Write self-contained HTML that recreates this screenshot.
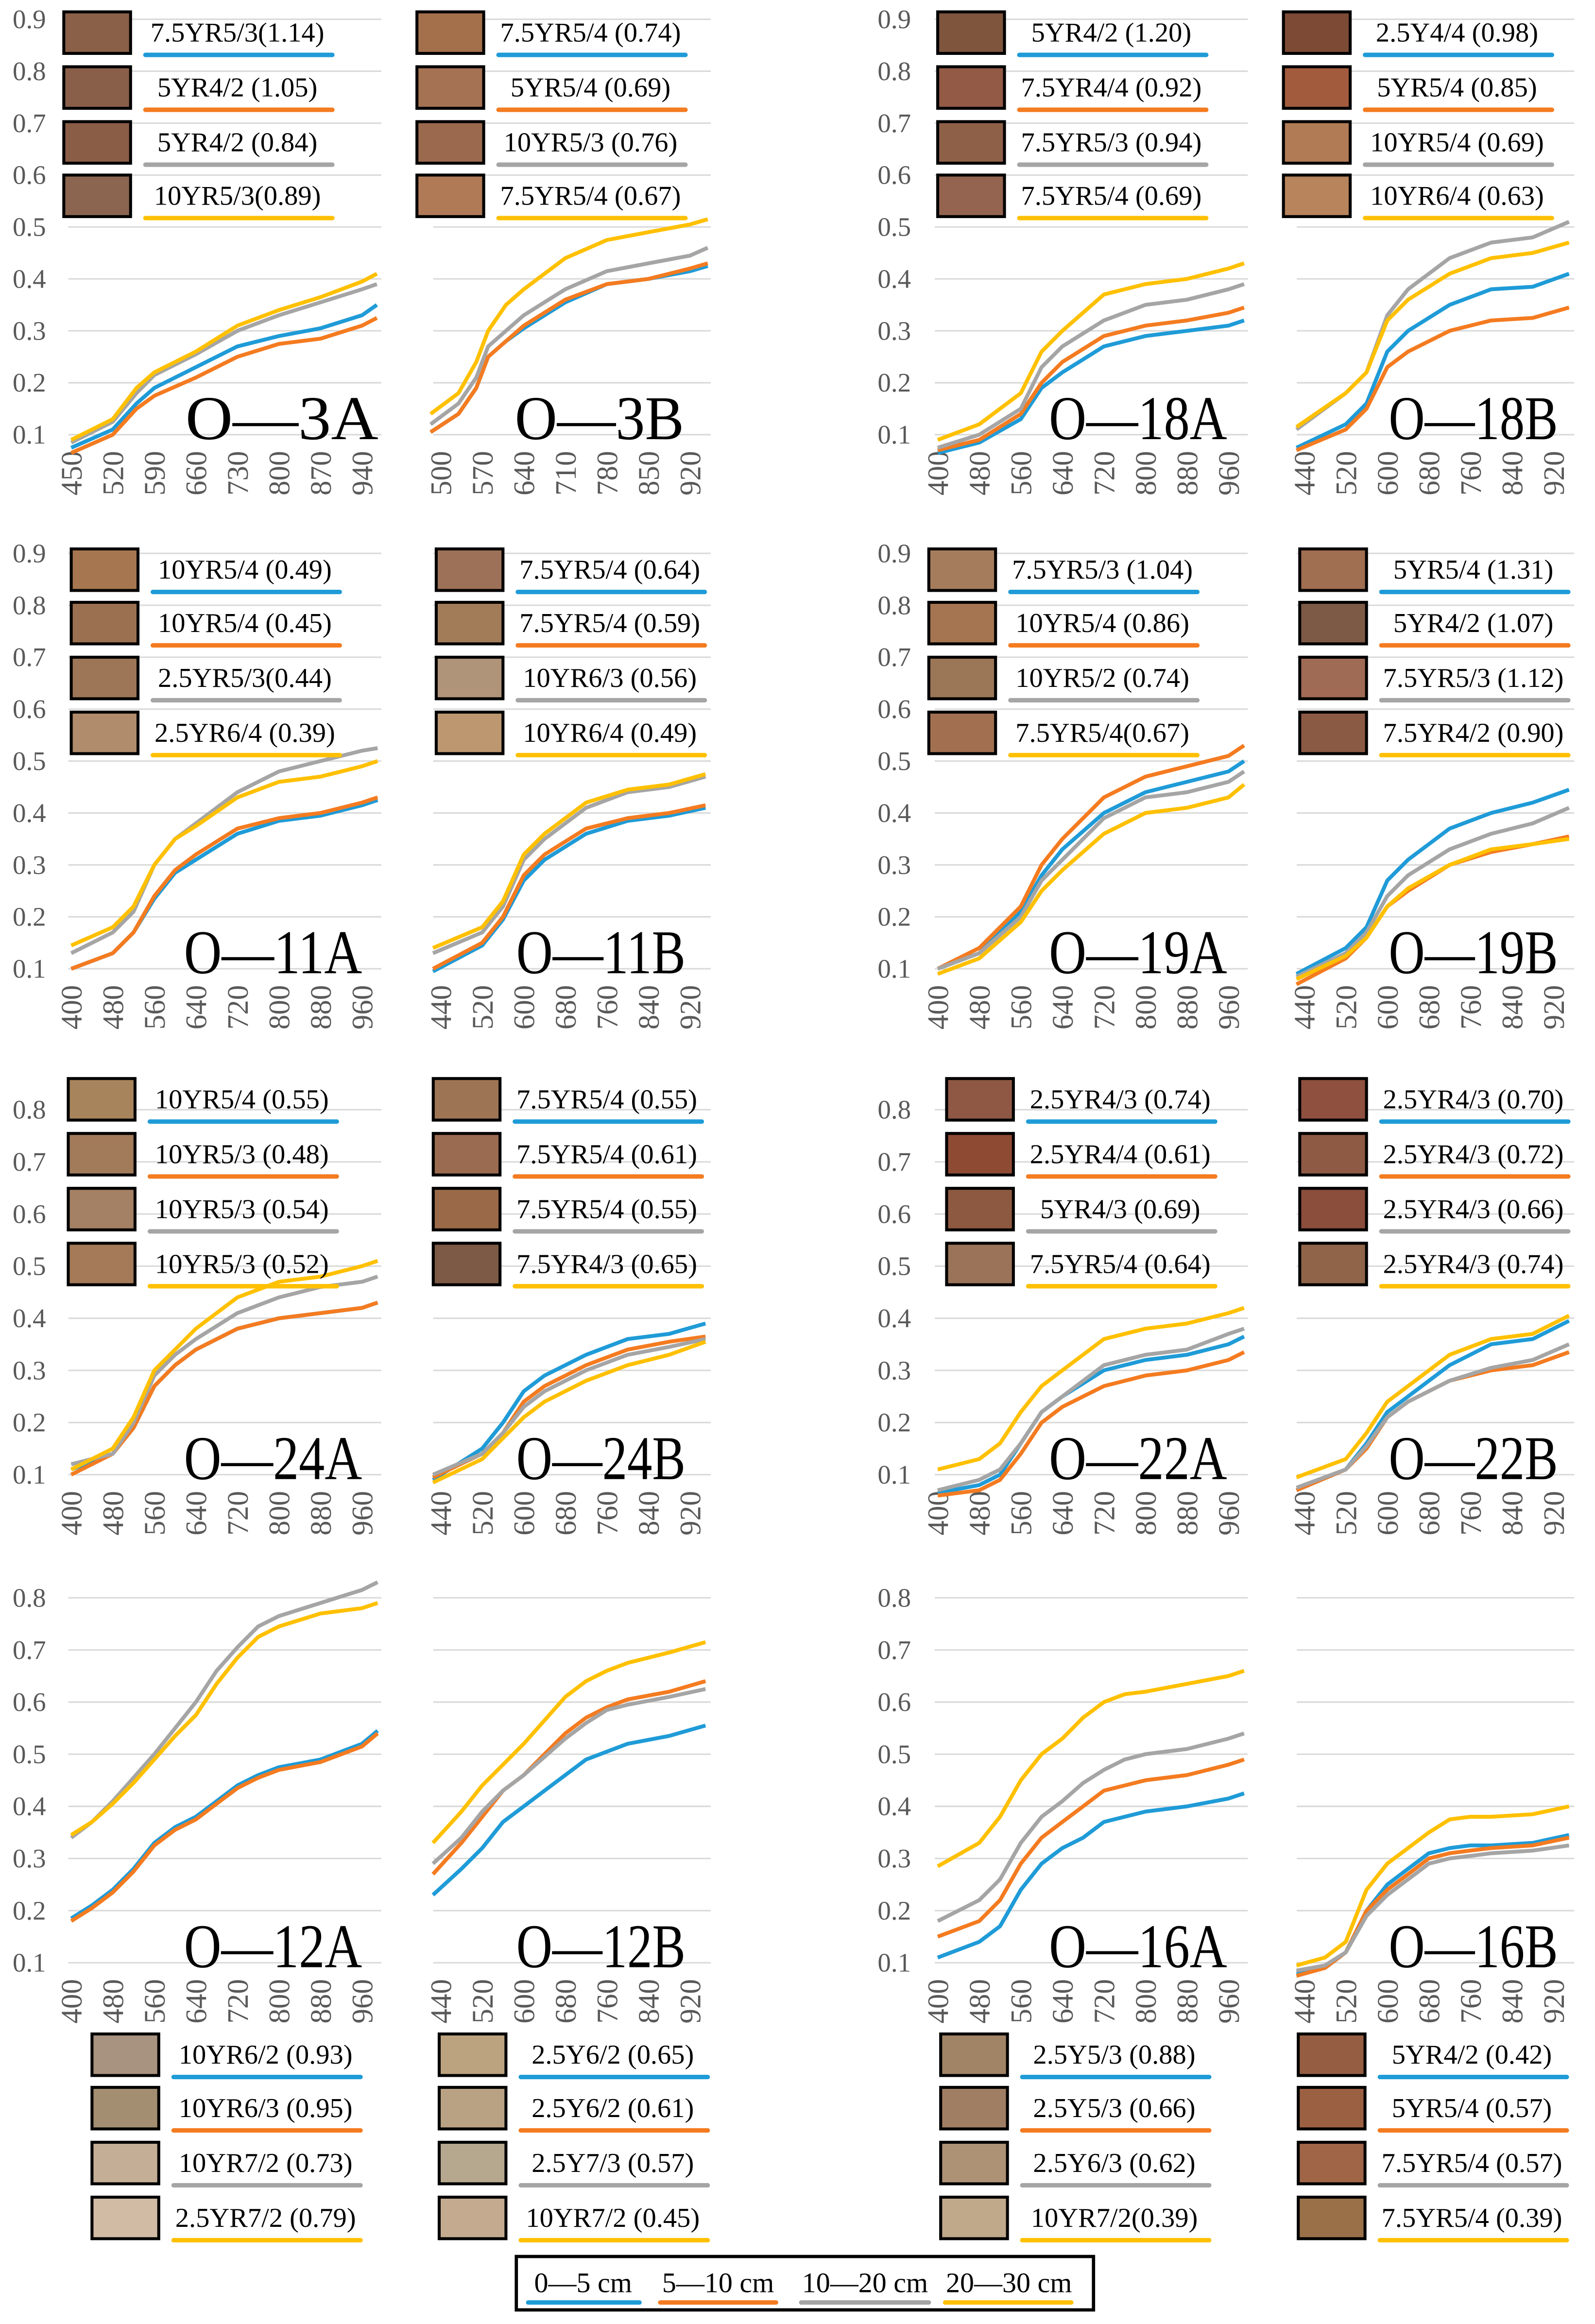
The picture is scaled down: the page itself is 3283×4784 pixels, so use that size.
<!DOCTYPE html>
<html><head><meta charset="utf-8"><title>Soil reflectance spectra</title>
<style>
html,body{margin:0;padding:0;background:#fff;}
svg{display:block;font-family:"Liberation Serif",serif;}
</style></head>
<body>
<svg id="fig" width="3283" height="4784" viewBox="0 0 1075 1566.5" preserveAspectRatio="none" xmlns="http://www.w3.org/2000/svg">
<g id="layer"></g>
<g>
<rect x="348" y="1521" width="389" height="36" fill="#fff" stroke="#000" stroke-width="2.2"/>
<text x="393" y="1545" font-size="19" text-anchor="middle">0—5 cm</text>
<line x1="356" x2="431" y1="1552" y2="1552" stroke="#1f9bd7" stroke-width="3" stroke-linecap="round"/>
<text x="484" y="1545" font-size="19" text-anchor="middle">5—10 cm</text>
<line x1="445" x2="523" y1="1552" y2="1552" stroke="#f47b20" stroke-width="3" stroke-linecap="round"/>
<text x="583" y="1545" font-size="19" text-anchor="middle">10—20 cm</text>
<line x1="540" x2="626" y1="1552" y2="1552" stroke="#a5a5a5" stroke-width="3" stroke-linecap="round"/>
<text x="680" y="1545" font-size="19" text-anchor="middle">20—30 cm</text>
<line x1="637" x2="722" y1="1552" y2="1552" stroke="#ffc000" stroke-width="3" stroke-linecap="round"/>
</g>
</svg>
<script>
// ---- data ----
const wl_3A=[450,520,560,590,660,730,800,870,940,965];
const b_3A=[0.075,0.11,0.16,0.19,0.23,0.27,0.29,0.305,0.33,0.35];
const o_3A=[0.065,0.10,0.15,0.175,0.21,0.25,0.275,0.285,0.31,0.325];
const g_3A=[0.085,0.125,0.18,0.215,0.255,0.30,0.33,0.355,0.38,0.39];
const y_3A=[0.09,0.13,0.19,0.22,0.26,0.31,0.34,0.365,0.395,0.41];
const wl_3B=[483,530,560,580,610,640,710,780,850,920,950];
const b_3B=[0.105,0.14,0.19,0.25,0.28,0.305,0.355,0.39,0.40,0.415,0.425];
const o_3B=[0.105,0.14,0.19,0.25,0.28,0.31,0.36,0.39,0.40,0.42,0.43];
const g_3B=[0.12,0.16,0.21,0.27,0.30,0.33,0.38,0.415,0.43,0.445,0.46];
const y_3B=[0.14,0.18,0.24,0.30,0.35,0.38,0.44,0.475,0.49,0.505,0.515];
const wlA=[400,480,560,600,640,720,800,880,960,990];
const b_18A=[0.065,0.085,0.13,0.19,0.22,0.27,0.29,0.30,0.31,0.32];
const o_18A=[0.07,0.09,0.14,0.20,0.24,0.29,0.31,0.32,0.335,0.345];
const g_18A=[0.075,0.10,0.15,0.23,0.27,0.32,0.35,0.36,0.38,0.39];
const y_18A=[0.09,0.12,0.18,0.26,0.30,0.37,0.39,0.40,0.42,0.43];
const wlB=[425,520,560,600,640,720,800,880,950];
const b_18B=[0.075,0.12,0.16,0.26,0.30,0.35,0.38,0.385,0.41];
const o_18B=[0.07,0.11,0.15,0.23,0.26,0.30,0.32,0.325,0.345];
const g_18B=[0.11,0.18,0.22,0.33,0.38,0.44,0.47,0.48,0.51];
const y_18B=[0.115,0.18,0.22,0.32,0.36,0.41,0.44,0.45,0.47];
const wlA2=[400,480,520,560,600,640,720,800,880,960,990];
const b_11A=[0.10,0.13,0.17,0.235,0.285,0.31,0.36,0.385,0.395,0.415,0.425];
const o_11A=[0.10,0.13,0.17,0.24,0.29,0.32,0.37,0.39,0.40,0.42,0.43];
const g_11A=[0.13,0.17,0.21,0.30,0.35,0.38,0.44,0.48,0.50,0.52,0.525];
const y_11A=[0.145,0.18,0.22,0.30,0.35,0.375,0.43,0.46,0.47,0.49,0.50];
const b_11B=[0.095,0.145,0.195,0.27,0.31,0.36,0.385,0.395,0.41];
const o_11B=[0.10,0.15,0.20,0.28,0.32,0.37,0.39,0.40,0.415];
const g_11B=[0.13,0.17,0.22,0.31,0.35,0.41,0.44,0.45,0.47];
const y_11B=[0.14,0.18,0.23,0.32,0.36,0.42,0.445,0.455,0.475];
const b_19A=[0.10,0.13,0.21,0.28,0.33,0.40,0.44,0.46,0.48,0.50];
const o_19A=[0.10,0.14,0.22,0.30,0.35,0.43,0.47,0.49,0.51,0.53];
const g_19A=[0.10,0.13,0.20,0.27,0.31,0.39,0.43,0.44,0.46,0.48];
const y_19A=[0.09,0.12,0.19,0.25,0.29,0.36,0.40,0.41,0.43,0.455];
const b_19B=[0.09,0.14,0.18,0.27,0.31,0.37,0.40,0.42,0.445];
const o_19B=[0.07,0.12,0.16,0.22,0.25,0.30,0.325,0.34,0.355];
const g_19B=[0.085,0.13,0.17,0.24,0.28,0.33,0.36,0.38,0.41];
const y_19B=[0.08,0.125,0.16,0.22,0.255,0.30,0.33,0.34,0.35];
const b_24A=[0.11,0.14,0.19,0.27,0.31,0.34,0.38,0.40,0.41,0.42,0.43];
const o_24A=[0.10,0.14,0.19,0.27,0.31,0.34,0.38,0.40,0.41,0.42,0.43];
const g_24A=[0.12,0.14,0.20,0.29,0.33,0.36,0.41,0.44,0.46,0.47,0.48];
const y_24A=[0.11,0.15,0.21,0.30,0.34,0.38,0.44,0.47,0.48,0.50,0.51];
const b_24B=[0.09,0.15,0.20,0.26,0.29,0.33,0.36,0.37,0.39];
const o_24B=[0.095,0.14,0.18,0.24,0.27,0.31,0.34,0.355,0.365];
const g_24B=[0.10,0.14,0.18,0.23,0.26,0.30,0.33,0.345,0.36];
const y_24B=[0.085,0.13,0.17,0.21,0.24,0.28,0.31,0.33,0.355];
const b_22A=[0.065,0.08,0.10,0.16,0.22,0.25,0.30,0.32,0.33,0.35,0.365];
const o_22A=[0.06,0.07,0.09,0.14,0.20,0.23,0.27,0.29,0.30,0.32,0.335];
const g_22A=[0.07,0.09,0.11,0.16,0.22,0.25,0.31,0.33,0.34,0.37,0.38];
const y_22A=[0.11,0.13,0.16,0.22,0.27,0.30,0.36,0.38,0.39,0.41,0.42];
const b_22B=[0.07,0.11,0.16,0.22,0.25,0.31,0.35,0.36,0.395];
const o_22B=[0.07,0.11,0.15,0.21,0.24,0.28,0.30,0.31,0.335];
const g_22B=[0.075,0.11,0.155,0.21,0.24,0.28,0.305,0.32,0.35];
const y_22B=[0.095,0.13,0.18,0.24,0.27,0.33,0.36,0.37,0.405];
const wl_12A=[400,440,480,520,560,600,640,680,720,760,800,880,960,990];
const b_12A=[0.185,0.21,0.24,0.28,0.33,0.36,0.38,0.41,0.44,0.46,0.475,0.49,0.52,0.545];
const o_12A=[0.18,0.205,0.235,0.275,0.325,0.355,0.375,0.405,0.435,0.455,0.47,0.485,0.515,0.54];
const g_12A=[0.34,0.37,0.41,0.455,0.50,0.55,0.60,0.66,0.705,0.745,0.765,0.79,0.815,0.83];
const y_12A=[0.345,0.37,0.405,0.445,0.49,0.535,0.575,0.635,0.685,0.725,0.745,0.77,0.78,0.79];
const wl_12B=[425,480,520,560,600,640,680,720,760,800,880,950];
const b_12B=[0.23,0.28,0.32,0.37,0.40,0.43,0.46,0.49,0.505,0.52,0.535,0.555];
const o_12B=[0.27,0.33,0.38,0.43,0.46,0.50,0.54,0.57,0.59,0.605,0.62,0.64];
const g_12B=[0.29,0.34,0.39,0.43,0.46,0.495,0.53,0.56,0.585,0.595,0.61,0.625];
const y_12B=[0.33,0.39,0.44,0.48,0.52,0.565,0.61,0.64,0.66,0.675,0.695,0.715];
const wl_16A=[400,480,520,560,600,640,680,720,760,800,880,960,990];
const b_16A=[0.11,0.14,0.17,0.24,0.29,0.32,0.34,0.37,0.38,0.39,0.40,0.415,0.425];
const o_16A=[0.15,0.18,0.22,0.29,0.34,0.37,0.40,0.43,0.44,0.45,0.46,0.48,0.49];
const g_16A=[0.18,0.22,0.26,0.33,0.38,0.41,0.445,0.47,0.49,0.50,0.51,0.53,0.54];
const y_16A=[0.285,0.33,0.38,0.45,0.50,0.53,0.57,0.60,0.615,0.62,0.635,0.65,0.66];
const wl_16B=[425,480,520,560,600,640,680,720,760,800,880,950];
const b_16B=[0.08,0.09,0.12,0.20,0.25,0.28,0.31,0.32,0.325,0.325,0.33,0.345];
const o_16B=[0.075,0.09,0.12,0.20,0.24,0.27,0.30,0.31,0.315,0.32,0.325,0.34];
const g_16B=[0.085,0.095,0.12,0.19,0.23,0.26,0.29,0.30,0.305,0.31,0.315,0.325];
const y_16B=[0.095,0.11,0.14,0.24,0.29,0.32,0.35,0.375,0.38,0.38,0.385,0.40];

const ticksA=[400,480,560,640,720,800,880,960];
const ticks3A=[450,520,590,660,730,800,870,940];
const ticksB=[440,520,600,680,760,840,920];
const ticks3B=[500,570,640,710,780,850,920];
const yTicks9=[0.1,0.2,0.3,0.4,0.5,0.6,0.7,0.8,0.9];
const yTicks8=[0.1,0.2,0.3,0.4,0.5,0.6,0.7,0.8];

const lab_3A=["7.5YR5/3(1.14)","5YR4/2 (1.05)","5YR4/2 (0.84)","10YR5/3(0.89)"];
const lab_3B=["7.5YR5/4 (0.74)","5YR5/4 (0.69)","10YR5/3 (0.76)","7.5YR5/4 (0.67)"];
const lab_18A=["5YR4/2 (1.20)","7.5YR4/4 (0.92)","7.5YR5/3 (0.94)","7.5YR5/4 (0.69)"];
const lab_18B=["2.5Y4/4 (0.98)","5YR5/4 (0.85)","10YR5/4 (0.69)","10YR6/4 (0.63)"];
const lab_11A=["10YR5/4 (0.49)","10YR5/4 (0.45)","2.5YR5/3(0.44)","2.5YR6/4 (0.39)"];
const lab_11B=["7.5YR5/4 (0.64)","7.5YR5/4 (0.59)","10YR6/3 (0.56)","10YR6/4 (0.49)"];
const lab_19A=["7.5YR5/3 (1.04)","10YR5/4 (0.86)","10YR5/2 (0.74)","7.5YR5/4(0.67)"];
const lab_19B=["5YR5/4 (1.31)","5YR4/2 (1.07)","7.5YR5/3 (1.12)","7.5YR4/2 (0.90)"];
const lab_24A=["10YR5/4 (0.55)","10YR5/3 (0.48)","10YR5/3 (0.54)","10YR5/3 (0.52)"];
const lab_24B=["7.5YR5/4 (0.55)","7.5YR5/4 (0.61)","7.5YR5/4 (0.55)","7.5YR4/3 (0.65)"];
const lab_22A=["2.5YR4/3 (0.74)","2.5YR4/4 (0.61)","5YR4/3 (0.69)","7.5YR5/4 (0.64)"];
const lab_22B=["2.5YR4/3 (0.70)","2.5YR4/3 (0.72)","2.5YR4/3 (0.66)","2.5YR4/3 (0.74)"];
const lab_12A=["10YR6/2 (0.93)","10YR6/3 (0.95)","10YR7/2 (0.73)","2.5YR7/2 (0.79)"];
const lab_12B=["2.5Y6/2 (0.65)","2.5Y6/2 (0.61)","2.5Y7/3 (0.57)","10YR7/2 (0.45)"];
const lab_16A=["2.5Y5/3 (0.88)","2.5Y5/3 (0.66)","2.5Y6/3 (0.62)","10YR7/2(0.39)"];
const lab_16B=["5YR4/2 (0.42)","5YR5/4 (0.57)","7.5YR5/4 (0.57)","7.5YR5/4 (0.39)"];

// ---- style/layout (not data) ----
const sw_3A=["#8a6048","#8a5f49","#8a5d47","#8c6550"],sw_3B=["#a4704c","#a57253","#9b6a4e","#b07a57"];
const sw_18A=["#7f553e","#935a45","#8f6048","#946450"],sw_18B=["#7c4a35","#a35b3d","#b07b55","#b7845c"];
const sw_11A=["#a57650","#9b7050","#9c7656","#b08c6c"],sw_11B=["#9c7158","#a27b59","#b09479","#bc9770"];
const sw_19A=["#a57d5c","#a47550","#9b7657","#a27051"],sw_19B=["#a06e50","#7d5a45","#a06b54","#8b5a44"];
const sw_24A=["#a8845c","#a27b5a","#a48064","#a47a58"],sw_24B=["#9e7554","#9a6b50","#9a6a48","#7d5a45"];
const sw_22A=["#8e5845","#8f4a34","#8d5940","#9b7358"],sw_22B=["#8f5040","#8e5a44","#8b4d3c","#8f6448"];
const sw_12A=["#a89380","#a38e72","#c4af96","#d1bba5"],sw_12B=["#bca37f","#b9a183","#b5a88f","#c4ab90"];
const sw_16A=["#a18466","#a07e63","#ae9276","#c0a98b"],sw_16B=["#955e42","#9b6042","#a06447","#9a7049"];
const COLORS=["#1f9bd7","#f47b20","#a5a5a5","#ffc000"];
const rows=[
 {base:293,k:350,ticks:yTicks9,leg:[22,59,96,132]},
 {base:653,k:350,ticks:yTicks9,leg:[384,420,457,494]},
 {base:994,k:351.4,ticks:yTicks8,leg:[741,778,815,852]},
 {base:1323,k:351.4,ticks:yTicks8,leg:[1385,1421,1458,1495]}
];
const cols=[{x0:44,x1:257,type:"A"},{x0:290,x1:479,type:"B"},{x0:628,x1:841,type:"A"},{x0:872,x1:1061,type:"B"}];
const panels=[
 {n:"O—3A",r:0,c:0,wl:wl_3A,s:[b_3A,o_3A,g_3A,y_3A],t:ticks3A,lab:lab_3A,sw:sw_3A,lx:43,tx:190,tw:130},
 {n:"O—3B",r:0,c:1,wl:wl_3B,s:[b_3B,o_3B,g_3B,y_3B],t:ticks3B,lab:lab_3B,sw:sw_3B,lx:281,tx:404,tw:114},
 {n:"O—18A",r:0,c:2,wl:wlA,s:[b_18A,o_18A,g_18A,y_18A],t:ticksA,lab:lab_18A,sw:sw_18A,lx:632,tx:767,tw:120},
 {n:"O—18B",r:0,c:3,wl:wlB,s:[b_18B,o_18B,g_18B,y_18B],t:ticksB,lab:lab_18B,sw:sw_18B,lx:865,tx:993,tw:114},
 {n:"O—11A",r:1,c:0,wl:wlA2,s:[b_11A,o_11A,g_11A,y_11A],t:ticksA,lab:lab_11A,sw:sw_11A,lx:48,tx:184,tw:120},
 {n:"O—11B",r:1,c:1,wl:wlB,s:[b_11B,o_11B,g_11B,y_11B],t:ticksB,lab:lab_11B,sw:sw_11B,lx:294,tx:405,tw:114},
 {n:"O—19A",r:1,c:2,wl:wlA,s:[b_19A,o_19A,g_19A,y_19A],t:ticksA,lab:lab_19A,sw:sw_19A,lx:626,tx:767,tw:120},
 {n:"O—19B",r:1,c:3,wl:wlB,s:[b_19B,o_19B,g_19B,y_19B],t:ticksB,lab:lab_19B,sw:sw_19B,lx:876,tx:993,tw:114},
 {n:"O—24A",r:2,c:0,wl:wlA2,s:[b_24A,o_24A,g_24A,y_24A],t:ticksA,lab:lab_24A,sw:sw_24A,lx:46,tx:184,tw:120},
 {n:"O—24B",r:2,c:1,wl:wlB,s:[b_24B,o_24B,g_24B,y_24B],t:ticksB,lab:lab_24B,sw:sw_24B,lx:292,tx:405,tw:114},
 {n:"O—22A",r:2,c:2,wl:wlA2,s:[b_22A,o_22A,g_22A,y_22A],t:ticksA,lab:lab_22A,sw:sw_22A,lx:638,tx:767,tw:120},
 {n:"O—22B",r:2,c:3,wl:wlB,s:[b_22B,o_22B,g_22B,y_22B],t:ticksB,lab:lab_22B,sw:sw_22B,lx:876,tx:993,tw:114},
 {n:"O—12A",r:3,c:0,wl:wl_12A,s:[b_12A,o_12A,g_12A,y_12A],t:ticksA,lab:lab_12A,sw:sw_12A,lx:62,tx:184,tw:120},
 {n:"O—12B",r:3,c:1,wl:wl_12B,s:[b_12B,o_12B,g_12B,y_12B],t:ticksB,lab:lab_12B,sw:sw_12B,lx:296,tx:405,tw:114},
 {n:"O—16A",r:3,c:2,wl:wl_16A,s:[b_16A,o_16A,g_16A,y_16A],t:ticksA,lab:lab_16A,sw:sw_16A,lx:634,tx:767,tw:120},
 {n:"O—16B",r:3,c:3,wl:wl_16B,s:[b_16B,o_16B,g_16B,y_16B],t:ticksB,lab:lab_16B,sw:sw_16B,lx:875,tx:993,tw:114}
];
const NS="http://www.w3.org/2000/svg";
const layer=document.getElementById("layer");
function mk(tag,attrs,parent){const e=document.createElementNS(NS,tag);for(const k in attrs)e.setAttribute(k,attrs[k]);(parent||layer).appendChild(e);return e;}
const gridG=mk("g",{});


rows.forEach((row,ri)=>{
  const yv=v=>row.base-(v-0.1)*row.k;
  [0,2].forEach(side=>{
    row.ticks.forEach(v=>{
      const lbl=mk("text",{x:side===0?31:614,y:yv(v)+6,"font-size":"18","text-anchor":"end",fill:"#595959"});
      lbl.textContent=v.toFixed(1);
      
      
    });
  });
  cols.forEach(col=>{
    row.ticks.forEach(v=>{
      const gl=mk("line",{x1:col.x0+2,x2:col.x1,y1:yv(v),y2:yv(v),stroke:"#d9d9d9","stroke-width":"1"},gridG);
      
      
    });
  });
});
panels.forEach(p=>{
  const row=rows[p.r],col=cols[p.c];
  const yv=v=>row.base-(v-0.1)*row.k;
  const t0=p.t[0],tn=p.t[p.t.length-1];
  const off=col.type==="A"?4:7, span=col.type==="A"?196:168;
  const xv=w=>col.x0+off+(w-t0)/(tn-t0)*span;
  const g=mk("g",{});
  
  
  p.t.forEach(t=>{
    const x=xv(t)+7,y=row.base+11;
    const tl=mk("text",{x:x,y:y,"font-size":"20","text-anchor":"end",fill:"#595959",transform:`rotate(-90 ${x} ${y})`},g);
    tl.textContent=t;
    
    
  });
  p.s.forEach((vals,si)=>{
    const d=vals.map((v,i)=>(i?"L":"M")+xv(p.wl[i]).toFixed(1)+","+yv(v).toFixed(1)).join("");
    const pl=mk("path",{d:d,fill:"none",stroke:COLORS[si],"stroke-width":"2.6","stroke-linejoin":"round"},g);
    
    
  });
  const tt=mk("text",{x:p.tx,y:row.base+3,"font-size":"42","text-anchor":"middle",fill:"#000",textLength:p.tw,lengthAdjust:"spacingAndGlyphs"},g);
  tt.textContent=p.n;
  
  
  row.leg.forEach((cy,i)=>{
    const sw=mk("rect",{x:p.lx,y:cy-14,width:45,height:28,fill:p.sw[i],stroke:"#000","stroke-width":"2"},g);
    
    
    const lt=mk("text",{x:p.lx+117,y:cy+6,"font-size":"18.5","text-anchor":"middle",fill:"#000"},g);
    lt.textContent=p.lab[i];
    
    
    const ul=mk("line",{x1:p.lx+55,x2:p.lx+181,y1:cy+15,y2:cy+15,stroke:COLORS[i],"stroke-width":"3","stroke-linecap":"round"},g);
    
    
  });
});
</script>
</body></html>
